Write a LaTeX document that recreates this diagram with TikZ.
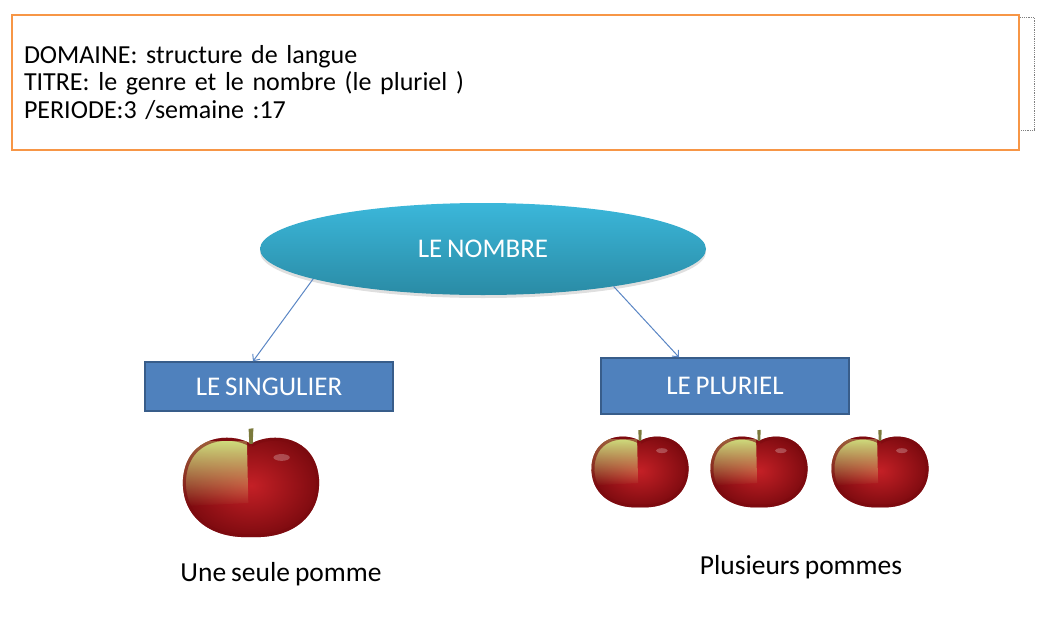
\documentclass[tikz,border=0pt]{standalone}
\usepackage{fontspec}
\setmainfont{Carlito}[WordSpace=0.8]
\usetikzlibrary{shapes.geometric,shadows,fadings,arrows.meta}

\definecolor{cadreorange}{HTML}{F79646}
\definecolor{bleuboite}{HTML}{4F81BD}
\definecolor{bleubord}{HTML}{385D8A}
\definecolor{turquoisehaut}{HTML}{3BB7DA}
\definecolor{turquoisebas}{HTML}{2A8BA5}
\definecolor{fleche}{HTML}{5A86C4}
\definecolor{pommerouge}{HTML}{C42026}
\definecolor{pommesombre}{HTML}{7C0A0F}
\definecolor{pommeverte}{HTML}{CFDB7C}
\definecolor{queue}{HTML}{7B7A3C}

\tikzfading[name=fondu bas, top color=transparent!0, bottom color=transparent!100]

\tikzset{
  cadre/.style={draw=cadreorange, line width=1.8pt, minimum width=1007pt,
    minimum height=135pt, inner xsep=12pt, text width=983pt, align=left,
    font=\fontsize{26}{27.5}\selectfont},
  bulle/.style={ellipse, minimum width=446pt, minimum height=92pt,
    top color=turquoisehaut, bottom color=turquoisebas, text=white,
    font=\fontsize{27}{30}\selectfont,
    drop shadow={shadow xshift=0pt, shadow yshift=-3pt, opacity=.25}},
  boite/.style={draw=bleubord, line width=1.5pt, fill=bleuboite, text=white,
    minimum width=248pt, font=\fontsize{27}{30}\selectfont},
  lien/.style={draw=fleche, line width=1pt, -{Straight Barb[length=5pt,width=9pt]}},
  legende/.style={font=\fontsize{27.5}{30}\selectfont},
  contour pomme/.style={insert path={(0,-0.62) .. controls (0.3,-0.8) and (0.95,-0.75) .. (1,-0.1)
      .. controls (1.03,0.45) and (0.6,0.78) .. (0,0.75)
      .. controls (-0.6,0.78) and (-1.03,0.45) .. (-1,-0.1)
      .. controls (-0.95,-0.75) and (-0.3,-0.8) .. (0,-0.62)}},
  pics/pomme/.style={code={
    \shade[inner color=pommerouge, outer color=pommesombre] [contour pomme];
    \begin{scope}
      \clip [contour pomme];
      \fill[pommeverte, path fading=fondu bas]
        (-0.06,-0.66) -- (-1.05,-0.66) -- (-1.05,0.3) -- (-0.04,0.25) -- cycle;
      \draw[pommesombre, opacity=.6, line width=6pt] [contour pomme];
    \end{scope}
    \fill[white, opacity=.25] (0.45,-0.42) ellipse [x radius=0.12, y radius=0.05];
    \fill[queue] (-0.025,-0.62) -- (-0.035,-0.84) -- (0.035,-0.85) -- (0.025,-0.62) -- cycle;
  }}
}

\begin{document}
\begin{tikzpicture}[x=1pt, y=-1pt]
\useasboundingbox (0,0) rectangle (1064,616);

% en-tete de la fiche
\draw[densely dotted, gray, line width=0.8pt] (1019,17) rectangle (1034,130);
\node[cadre, fill=white] (entete) at (515.5,82.5)
  {DOMAINE: structure de langue\\
   TITRE: le genre et le nombre (le pluriel )\\
   PERIODE:3 /semaine :17};

% la carte
\node[bulle] (nombre) at (483,249) {LE NOMBRE};
\node[boite, minimum height=49pt] (singulier) at (269,386.5) {LE SINGULIER};
\node[boite, minimum height=56pt] (pluriel) at (725,386) {LE PLURIEL};

\draw[lien] (nombre.190) -- ([xshift=-16pt]singulier.north);
\draw[lien] (nombre.344) -- ([xshift=-46pt]pluriel.north);

% les pommes
\pic[scale=68] at (251,486) {pomme};
\foreach \px in {640,759,880}
  \pic[scale=48.5] at (\px,471) {pomme};

\node[legende] (seule) at (281,574) {Une seule pomme};
\node[legende] (plusieurs) at (801,567) {Plusieurs pommes};
\end{tikzpicture}
\end{document}
